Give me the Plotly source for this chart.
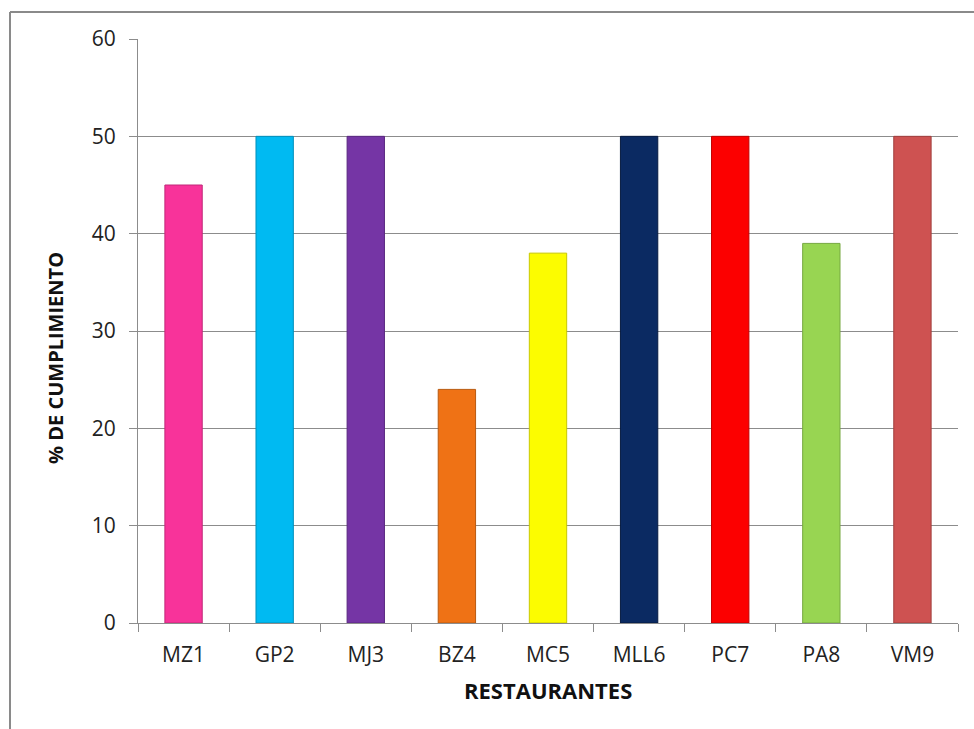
import plotly.graph_objects as go

categories = ["MZ1", "GP2", "MJ3", "BZ4", "MC5", "MLL6", "PC7", "PA8", "VM9"]
values = [45, 50, 50, 24, 38, 50, 50, 39, 50]
colors = ["#F8339A", "#00BAF2", "#7535A5", "#EF7215", "#FCFC00",
          "#0B2A62", "#FC0000", "#98D552", "#CE5251"]
edge_colors = ["#C02878", "#0090BB", "#5A2880", "#B85A10", "#C8C800",
               "#061A40", "#C00000", "#76A840", "#A03E3D"]

W, H = 974, 729
L, R, T, B = 138, 16, 39, 106
pw, ph = W - L - R, H - T - B

def px_x(px):
    return (px - L) / pw

def px_y(py):
    return (H - B - py) / ph

FONT = "Open Sans, Liberation Sans, sans-serif"

fig = go.Figure()
fig.add_trace(go.Bar(
    x=categories, y=values,
    marker=dict(color=colors, line=dict(color=edge_colors, width=1)),
    width=0.41,
))

gray = "#8C8C8C"
fig.update_layout(
    width=W, height=H,
    margin=dict(l=L, r=R, t=T, b=B),
    plot_bgcolor="white", paper_bgcolor="white",
    showlegend=False,
    font=dict(family=FONT, color="#222"),
    xaxis=dict(
        showline=True, linecolor=gray, linewidth=1,
        ticks="outside", ticklen=8, tickcolor=gray, tickson="boundaries",
        tickfont=dict(size=21, color="#222"),
        ticklabelstandoff=13,
        showgrid=False,
    ),
    yaxis=dict(
        range=[0, 60], dtick=10,
        showline=True, linecolor=gray, linewidth=1,
        ticks="outside", ticklen=8, tickcolor=gray,
        showgrid=True, gridcolor=gray, gridwidth=1,
        tickfont=dict(size=21, color="#222"),
        ticklabelstandoff=9,
        zeroline=False,
    ),
    annotations=[
        dict(text="<b>% DE CUMPLIMIENTO</b>", xref="paper", yref="paper",
             x=px_x(55), y=px_y(358), textangle=-90, showarrow=False,
             font=dict(size=20, color="#111", family=FONT),
             xanchor="center", yanchor="middle"),
        dict(text="<b>RESTAURANTES</b>", xref="paper", yref="paper",
             x=px_x(548), y=px_y(690), showarrow=False,
             font=dict(size=22, color="#111", family=FONT),
             xanchor="center", yanchor="middle"),
    ],
    shapes=[
        dict(type="line", xref="paper", yref="paper",
             x0=px_x(10), x1=px_x(10), y0=px_y(12), y1=px_y(740),
             line=dict(color="#8A8A8A", width=2)),
        dict(type="line", xref="paper", yref="paper",
             x0=px_x(10), x1=px_x(990), y0=px_y(12), y1=px_y(12),
             line=dict(color="#8A8A8A", width=2)),
    ],
)

fig.write_html("out.html")
